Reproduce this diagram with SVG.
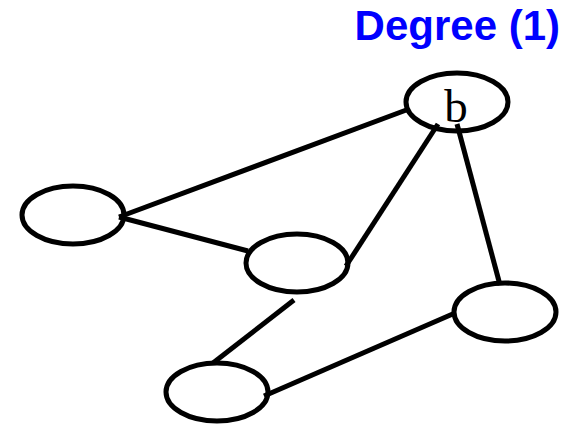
<svg xmlns="http://www.w3.org/2000/svg" width="570" height="424" viewBox="0 0 570 424">
<style>
.n{fill:none;stroke:#000;stroke-width:5}
.e{stroke:#000;stroke-width:5;fill:none}
.t{font-family:"Liberation Sans",Arial,sans-serif;font-weight:bold;font-size:42px;fill:#0000ff}
.l{font-family:"Liberation Serif","Times New Roman",serif;font-size:47px;fill:#000}
</style>
<rect width="570" height="424" fill="#fff"/>
<text class="t" x="560" y="40" text-anchor="end">Degree (1)</text>
<g id="edges">
<line class="e" x1="409" y1="109" x2="119" y2="217"/>
<line class="e" x1="119" y1="217" x2="248" y2="251"/>
<line class="e" x1="346" y1="266" x2="438" y2="124"/>
<line class="e" x1="457" y1="124" x2="500" y2="285"/>
<line class="e" x1="294" y1="300" x2="213" y2="363"/>
<line class="e" x1="264" y1="396" x2="455" y2="313"/>
</g>
<g id="node-b">
<ellipse class="n" cx="457" cy="102" rx="51" ry="29"/>
<text class="l" x="456" y="122" text-anchor="middle">b</text>
</g>
<g id="node-left"><ellipse class="n" cx="73" cy="215" rx="51" ry="29"/></g>
<g id="node-mid"><ellipse class="n" cx="297" cy="263" rx="51" ry="29"/></g>
<g id="node-right"><ellipse class="n" cx="505" cy="312" rx="51" ry="29"/></g>
<g id="node-bottom"><ellipse class="n" cx="217" cy="392" rx="51" ry="29"/></g>
</svg>
